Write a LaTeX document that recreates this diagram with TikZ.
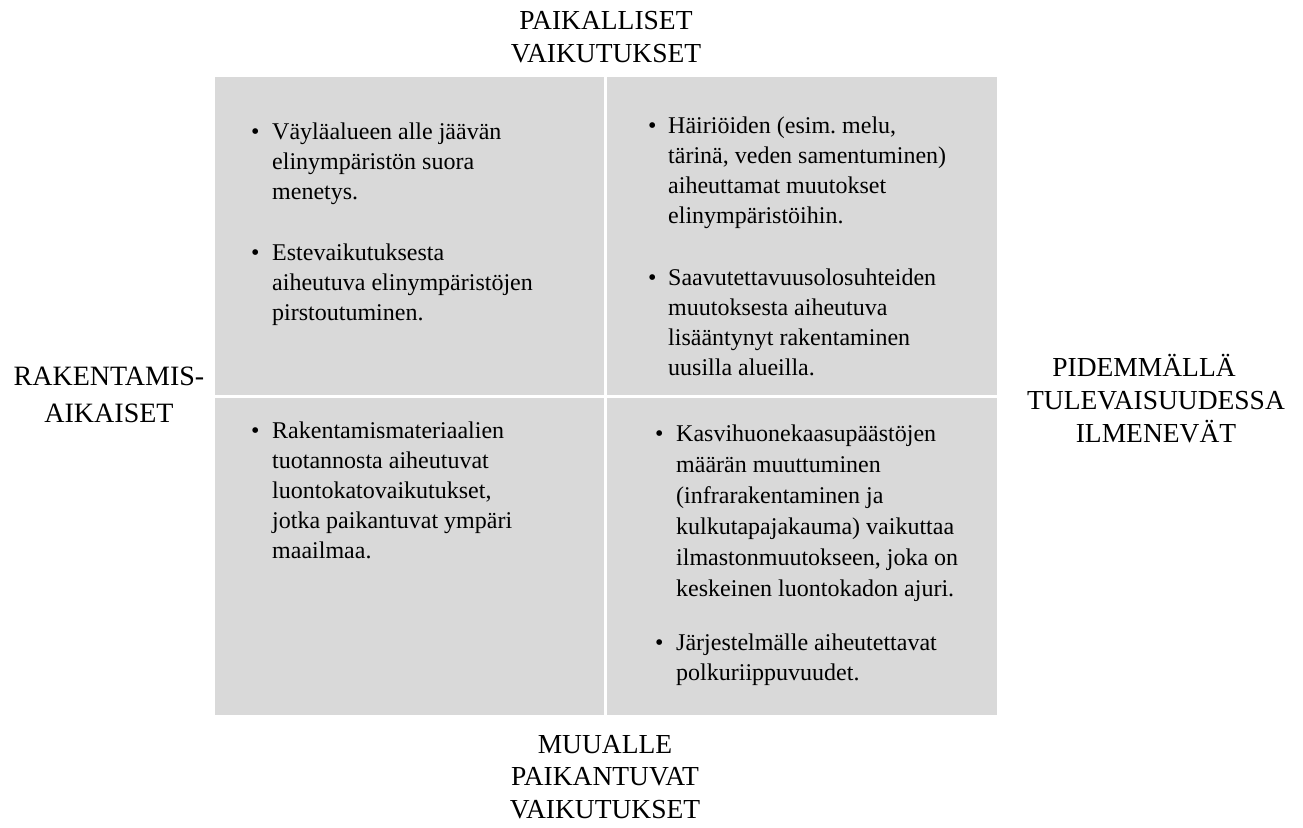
\documentclass[tikz,border=0pt]{standalone}
\usepackage{fontspec}
\setmainfont{Liberation Serif}
\usepackage{tikz}
\definecolor{quadgray}{HTML}{D9D9D9}
\frenchspacing

\begin{document}
\begin{tikzpicture}[x=1bp,y=-1bp,
	quad/.style={fill=quadgray},
	bul/.style={anchor=base west,inner sep=0pt,font=\fontsize{24bp}{30bp}\selectfont},
	item/.style={anchor=base west,inner sep=0pt,align=left,font=\fontsize{24bp}{30bp}\selectfont},
	head/.style={anchor=base,inner sep=0pt,align=center,font=\fontsize{27.5bp}{33bp}\selectfont}]
				\useasboundingbox (0,0) rectangle (1303,827);
				% four fields, white gaps between them
				\fill[quad] (214.5,77) rectangle (604,394.5);
				\fill[quad] (606.5,77) rectangle (996.7,394.5);
				\fill[quad] (214.5,398.3) rectangle (604,715);
				\fill[quad] (606.5,398.3) rectangle (996.7,715);
				% axis labels (base = last line)
				\node[head] (top) at (606,62.5) {PAIKALLISET\\VAIKUTUKSET};
				\node[head,font=\fontsize{27.5bp}{32.5bp}\selectfont] (bottom) at (605,818) {MUUALLE\\PAIKANTUVAT\\VAIKUTUKSET};
				\node[head,font=\fontsize{28bp}{37bp}\selectfont] (left) at (109,422) {RAKENTAMIS-\\AIKAISET};
				\node[head] (right) at (1156,442) {PIDEMMÄLLÄ\hspace*{24bp}\\TULEVAISUUDESSA\\ILMENEVÄT};
				% top left
				\node[bul] (tlb1) at (251,139) {\textbullet};
				\node[item] (tlt1) at (272,199) {Väyläalueen alle jäävän\\elinympäristön suora\\menetys.};
				\node[bul] (tlb2) at (251,260) {\textbullet};
				\node[item] (tlt2) at (272,320) {Estevaikutuksesta\\aiheutuva elinympäristöjen\\pirstoutuminen.};
				% top right
				\node[bul] (trb1) at (648,133.5) {\textbullet};
				\node[item] (trt1) at (668,223.5) {Häiriöiden (esim. melu,\\tärinä, veden samentuminen)\\aiheuttamat muutokset\\elinympäristöihin.};
				\node[bul] (trb2) at (648,285) {\textbullet};
				\node[item] (trt2) at (668,375) {Saavutettavuusolosuhteiden\\muutoksesta aiheutuva\\lisääntynyt rakentaminen\\uusilla alueilla.};
				% bottom left
				\node[bul] (blb1) at (251,438.5) {\textbullet};
				\node[item] (blt1) at (272,558.5) {Rakentamismateriaalien\\tuotannosta aiheutuvat\\luontokatovaikutukset,\\jotka paikantuvat ympäri\\maailmaa.};
				% bottom right
				\node[bul] (brb1) at (655,441.5) {\textbullet};
				\node[item,font=\fontsize{24bp}{31bp}\selectfont] (brt1) at (676,596.5) {Kasvihuonekaasupäästöjen\\määrän muuttuminen\\(infrarakentaminen ja\\kulkutapajakauma) vaikuttaa\\ilmastonmuutokseen, joka on\\keskeinen luontokadon ajuri.};
				\node[bul] (brb2) at (655,650) {\textbullet};
				\node[item] (brt2) at (676,680) {Järjestelmälle aiheutettavat\\polkuriippuvuudet.};
\end{tikzpicture}
\end{document}
